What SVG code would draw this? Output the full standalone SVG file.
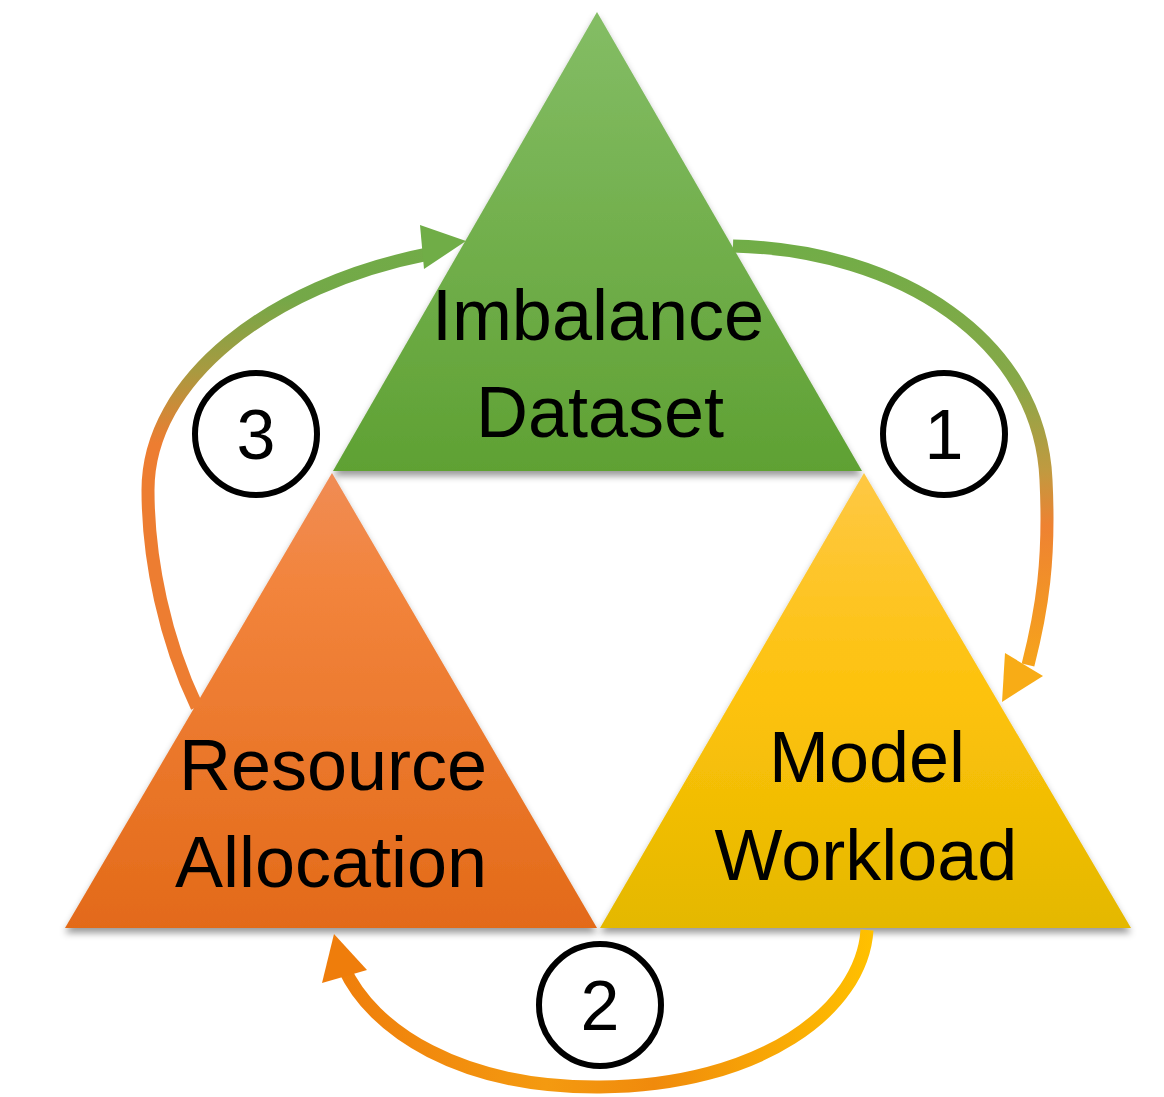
<svg xmlns="http://www.w3.org/2000/svg" width="1164" height="1097" viewBox="0 0 1164 1097">
  <style>
    .label { font-family: "Liberation Sans", Arial, sans-serif; font-size: 72px; fill: #000; text-anchor: middle; }
    .num { font-family: "Liberation Sans", Arial, sans-serif; font-size: 70px; fill: #000; text-anchor: middle; }
    .ring { fill: #fff; stroke: #000; stroke-width: 6; }
    .shaft { fill: none; stroke-width: 13; }
  </style>
  <defs>
    <linearGradient id="gGreen" x1="0" y1="0" x2="0" y2="1">
      <stop offset="0" stop-color="#84bd65"/>
      <stop offset="1" stop-color="#5fa133"/>
    </linearGradient>
    <linearGradient id="gOrange" x1="0" y1="0" x2="0" y2="1">
      <stop offset="0" stop-color="#f08c55"/>
      <stop offset="0.25" stop-color="#f2843c"/>
      <stop offset="1" stop-color="#e36a19"/>
    </linearGradient>
    <linearGradient id="gYellow" x1="0" y1="0" x2="0" y2="1">
      <stop offset="0" stop-color="#fec844"/>
      <stop offset="0.5" stop-color="#fdc20a"/>
      <stop offset="1" stop-color="#e4b800"/>
    </linearGradient>
    <linearGradient id="gArrow1" gradientUnits="userSpaceOnUse" x1="0" y1="240" x2="0" y2="700">
      <stop offset="0" stop-color="#70ad47"/>
      <stop offset="0.3" stop-color="#86a848"/>
      <stop offset="0.5" stop-color="#c09a40"/>
      <stop offset="0.62" stop-color="#ee8232"/>
      <stop offset="1" stop-color="#f8ac16"/>
    </linearGradient>
    <linearGradient id="gArrow2" gradientUnits="userSpaceOnUse" x1="330" y1="0" x2="870" y2="0">
      <stop offset="0" stop-color="#ef7d0b"/>
      <stop offset="0.4" stop-color="#f49a10"/>
      <stop offset="0.6" stop-color="#f08a0c"/>
      <stop offset="1" stop-color="#ffc000"/>
    </linearGradient>
    <linearGradient id="gArrow3" gradientUnits="userSpaceOnUse" x1="0" y1="710" x2="0" y2="225">
      <stop offset="0" stop-color="#ed7d31"/>
      <stop offset="0.55" stop-color="#ed7d31"/>
      <stop offset="0.7" stop-color="#a89a40"/>
      <stop offset="0.85" stop-color="#74a848"/>
      <stop offset="1" stop-color="#70ad47"/>
    </linearGradient>
    <filter id="shadow" x="-10%" y="-10%" width="120%" height="125%">
      <feDropShadow dx="0" dy="5" stdDeviation="3.5" flood-color="#000" flood-opacity="0.4"/>
    </filter>
  </defs>

  <!-- triangles -->
  <g id="node-imbalance-dataset">
    <polygon points="597,12 862,471 333,471" fill="url(#gGreen)" filter="url(#shadow)"/>
    <text class="label" x="598" y="340">Imbalance</text>
    <text class="label" x="600" y="437">Dataset</text>
  </g>
  <g id="node-resource-allocation">
    <polygon points="332,473 597,928 65,928" fill="url(#gOrange)" filter="url(#shadow)"/>
    <text class="label" x="333" y="790">Resource</text>
    <text class="label" x="331" y="887">Allocation</text>
  </g>
  <g id="node-model-workload">
    <polygon points="864,473 1131,928 600,928" fill="url(#gYellow)" filter="url(#shadow)"/>
    <text class="label" x="867" y="782">Model</text>
    <text class="label" x="866" y="880">Workload</text>
  </g>

  <!-- connectors -->
  <g id="connectors">
    <path class="shaft" stroke="url(#gArrow1)" d="M733,246 C900,250 1040,340 1046,480 C1050,560 1042,610 1028,665"/>
    <polygon points="1005,653 1043,676 1002,702" fill="#f8ac16"/>

    <path class="shaft" stroke="url(#gArrow2)" d="M867,930 C862,1010 760,1086 600,1087 C460,1088 372,1030 344,968"/>
    <polygon points="334,934 367,970 322,983" fill="#ef7d0b"/>

    <path class="shaft" stroke="url(#gArrow3)" d="M197,707 C165,640 148,560 148,490 C148,380 270,285 428,254"/>
    <polygon points="420,225 466,241 424,269" fill="#70ad47"/>
  </g>

  <!-- step markers -->
  <g id="step-1">
    <circle class="ring" cx="944" cy="434" r="61"/>
    <text class="num" x="944" y="459">1</text>
  </g>
  <g id="step-2">
    <circle class="ring" cx="600" cy="1005" r="61"/>
    <text class="num" x="600" y="1030">2</text>
  </g>
  <g id="step-3">
    <circle class="ring" cx="256" cy="434" r="61"/>
    <text class="num" x="256" y="459">3</text>
  </g>
</svg>
